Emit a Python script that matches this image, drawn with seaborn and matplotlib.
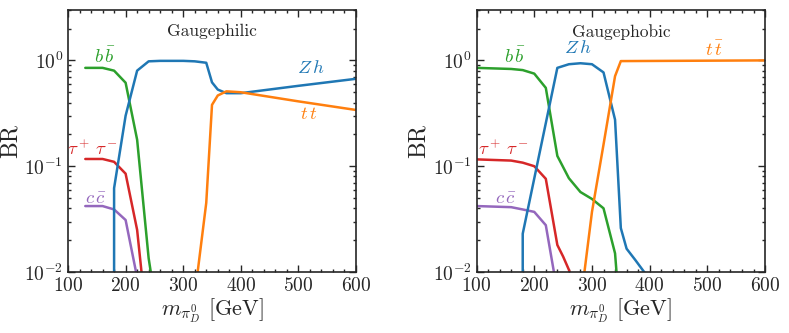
import matplotlib.pyplot as plt
import matplotlib.ticker as ticker
import seaborn as sns

sns.set_style("ticks")
plt.rcParams.update(
    {
        "font.family": "serif",
        "font.serif": ["cmr10"],
        "mathtext.fontset": "cm",
        "axes.formatter.use_mathtext": True,
    }
)

colors = {
    "bb": "#2ca02c",
    "tau": "#d62728",
    "cc": "#9467bd",
    "zh": "#1f77b4",
    "tt": "#ff7f0e",
}

# Gaugephilic branching ratios (mass in GeV)
philic_bb_m = [130, 160, 180, 200, 220, 240, 250]
philic_bb = [0.85, 0.85, 0.80, 0.615, 0.178, 0.0135, 0.006]
philic_tau_m = [130, 160, 180, 200, 220, 230]
philic_tau = [0.117, 0.117, 0.11, 0.085, 0.025, 0.0075]
philic_cc_m = [130, 160, 180, 200, 220]
philic_cc = [0.042, 0.042, 0.039, 0.031, 0.0089]
philic_zh_m = [180, 180, 200, 220, 240, 260, 300, 320, 340, 350, 360, 375, 400, 500, 600]
philic_zh = [1e-4, 0.062, 0.3, 0.80, 0.98, 0.99, 0.99, 0.98, 0.95, 0.62, 0.53, 0.49, 0.49, 0.575, 0.67]
philic_tt_m = [320, 340, 350, 360, 375, 400, 500, 600]
philic_tt = [0.006, 0.045, 0.38, 0.466, 0.51, 0.50, 0.41, 0.34]

# Gaugephobic branching ratios
phobic_bb_m = [100, 160, 180, 200, 220, 240, 260, 280, 300, 320, 340, 350]
phobic_bb = [0.85, 0.83, 0.81, 0.75, 0.55, 0.125, 0.077, 0.057, 0.049, 0.040, 0.015, 0.003]
phobic_tau_m = [100, 160, 180, 200, 220, 240, 250, 260, 270]
phobic_tau = [0.116, 0.113, 0.108, 0.10, 0.076, 0.018, 0.014, 0.0105, 0.007]
phobic_cc_m = [100, 160, 180, 200, 220, 240]
phobic_cc = [0.042, 0.041, 0.039, 0.037, 0.0277, 0.0065]
phobic_zh_m = [180, 180, 240, 260, 280, 300, 320, 340, 350, 360, 375, 400]
phobic_zh = [1e-4, 0.023, 0.85, 0.92, 0.94, 0.92, 0.77, 0.275, 0.026, 0.0166, 0.013, 0.0085]
phobic_tt_m = [280, 300, 320, 340, 350, 600]
phobic_tt = [0.005, 0.037, 0.16, 0.71, 0.985, 1.0]

philic = {
    "bb": (philic_bb_m, philic_bb),
    "tau": (philic_tau_m, philic_tau),
    "cc": (philic_cc_m, philic_cc),
    "zh": (philic_zh_m, philic_zh),
    "tt": (philic_tt_m, philic_tt),
}
phobic = {
    "bb": (phobic_bb_m, phobic_bb),
    "tau": (phobic_tau_m, phobic_tau),
    "cc": (phobic_cc_m, phobic_cc),
    "zh": (phobic_zh_m, phobic_zh),
    "tt": (phobic_tt_m, phobic_tt),
}

labels = {
    "bb": r"$b\,\bar{b}$",
    "tau": r"$\tau^+\,\tau^-$",
    "cc": r"$c\,\bar{c}$",
    "zh": r"$Z\,h$",
    "tt": r"$t\,\bar{t}$",
}
# label anchor points (mass, BR)
philic_label_pos = {
    "bb": (164, 1.09),
    "tau": (142, 0.147),
    "cc": (148, 0.050),
    "zh": (521, 0.84),
    "tt": (520, 0.318),
}
phobic_label_pos = {
    "bb": (166, 1.09),
    "tau": (146, 0.147),
    "cc": (151, 0.050),
    "zh": (276, 1.30),
    "tt": (513, 1.27),
}


def draw_panel(ax, series, label_pos, title):
    for key, (m, br) in series.items():
        sns.lineplot(
            x=m, y=br, ax=ax, color=colors[key], linewidth=1.8,
            estimator=None, sort=False,
        )
        x, y = label_pos[key]
        ax.text(x, y, labels[key], color=colors[key], fontsize=13.5,
                ha="center", va="center")
    ax.set_yscale("log")
    ax.set_xlim(100, 600)
    ax.set_ylim(1e-2, 3)
    ax.xaxis.set_major_locator(ticker.MultipleLocator(100))
    ax.xaxis.set_minor_locator(ticker.MultipleLocator(20))
    ax.tick_params(which="both", direction="in", top=True, right=True,
                   labelsize=14, width=1)
    ax.tick_params(which="major", length=5)
    ax.tick_params(which="minor", length=2.5)
    for s in ax.spines.values():
        s.set_linewidth(1.2)
    ax.set_xlabel(r"$m_{\pi_D^0}$ [GeV]", fontsize=16, labelpad=1)
    ax.set_ylabel("BR", fontsize=17, labelpad=2)
    ax.text(0.5, 0.917, title, transform=ax.transAxes, fontsize=12.5,
            ha="center", va="center")


fig = plt.figure(figsize=(7.89, 3.33), dpi=100)
ax_l = fig.add_axes([0.0862, 0.1832, 0.365, 0.787])
ax_r = fig.add_axes([0.604, 0.1832, 0.3657, 0.787])

draw_panel(ax_l, philic, philic_label_pos, "Gaugephilic")
draw_panel(ax_r, phobic, phobic_label_pos, "Gaugephobic")

fig.savefig("out.png", dpi=100)
